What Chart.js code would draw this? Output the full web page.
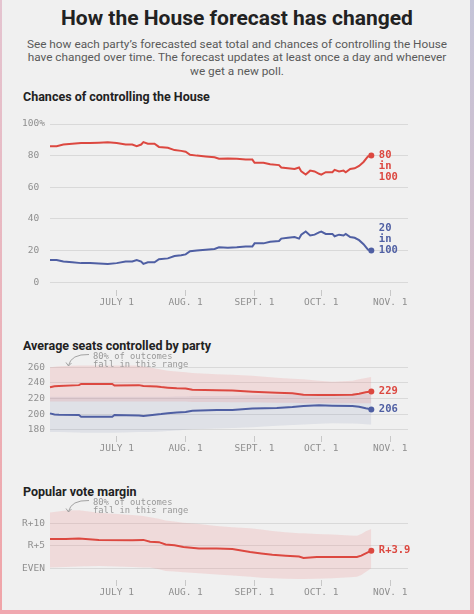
<!DOCTYPE html>
<html>
<head>
<meta charset="utf-8">
<script src="https://cdn.jsdelivr.net/npm/chart.js@4/dist/chart.umd.min.js"></script>
<style>
  html, body { margin: 0; padding: 0; }
  body { width: 474px; height: 614px; position: relative; background: #f0f0f0; overflow: hidden; font-family: Roboto, "Noto Sans", sans-serif; }
  .abs { position: absolute; }
  .title { left: 0; width: 474px; top: 4px; text-align: center; font-size: 21px; font-weight: 700; color: #222; line-height: 28px; }
  .sub { left: 0; width: 474px; top: 37.5px; text-align: center; font-size: 11.8px; color: #5a5a5a; line-height: 13.5px; }
  .sect { left: 23px; font-size: 12.5px; font-weight: 700; color: #222; line-height: 15px; }
  .note { left: 93px; font-family: "DejaVu Sans Mono", monospace; font-size: 8.8px; color: #999; line-height: 8.3px; white-space: pre; }
  canvas { position: absolute; left: 0; }
  .bl { left: 0; top: 0; width: 2px; height: 614px; background: linear-gradient(#e4c4d0, #f0a4a8); }
  .br { left: 470px; top: 0; width: 4px; height: 614px; background: linear-gradient(#c4c4d8, #e8b4bc); }
  .bb { left: 0; top: 610px; width: 474px; height: 4px; background: #f0a8b0; }
</style>
</head>
<body>
<div class="abs bl"></div>
<div class="abs br"></div>
<div class="abs bb"></div>

<div class="abs title">How the House forecast has changed</div>
<div class="abs sub">See how each party’s forecasted seat total and chances of controlling the House<br>have changed over time. The forecast updates at least once a day and whenever<br>we get a new poll.</div>

<div class="abs sect" style="top:89px">Chances of controlling the House</div>
<div class="abs sect" style="top:338px">Average seats controlled by party</div>
<div class="abs sect" style="top:484px">Popular vote margin</div>

<canvas id="c1" width="474" height="200" style="top:110px"></canvas>
<canvas id="c2" width="474" height="106" style="top:350px"></canvas>
<canvas id="c3" width="474" height="107" style="top:493px"></canvas>

<div class="abs note" style="top:351.5px">80% of outcomes
fall in this range</div>
<div class="abs note" style="top:497.5px">80% of outcomes
fall in this range</div>

<svg class="abs" style="left:0;top:0;pointer-events:none" width="474" height="614">
  <g fill="none" stroke="#999" stroke-width="0.9">
    <path d="M89,354.5 Q71,354 68.5,365.5"/>
    <path d="M66,362.5 L68.5,366 L71.5,363"/>
    <path d="M89,500.5 Q71,500 68.5,511.5"/>
    <path d="M66,508.5 L68.5,512 L71.5,509"/>
  </g>
</svg>

<script>
// ---------- DATA ----------
// x values are days since June 1
const xTickDays = [30, 61, 92, 122, 153];
const xTickLabels = ['JULY 1', 'AUG. 1', 'SEPT. 1', 'OCT. 1', 'NOV. 1'];

const chanceTicks = [0, 20, 40, 60, 80, 100];
const chanceTickLabels = ['0 ', '20 ', '40 ', '60 ', '80 ', '100%'];
const chanceDays = [0, 3, 6, 10, 14, 18, 22, 26, 30, 34, 37, 39, 41, 42, 44, 47, 49, 53, 56, 59, 61, 63, 66, 70, 74, 76, 80, 84, 88, 91, 92, 96, 99, 103, 104, 107, 110, 112, 113, 115, 117, 119, 121, 122, 124, 127, 128, 130, 132, 133, 135, 137, 139, 141, 143, 144.5];
const repChance = [86, 86, 87, 87.5, 88, 88, 88.2, 88.5, 88, 87, 87, 86, 87, 88.5, 87.5, 87.5, 85.5, 85, 83.5, 83, 82.5, 80.5, 80, 79.5, 79, 78, 78.2, 78, 77.5, 77.5, 75.5, 75.5, 74.5, 74, 72.5, 72, 71.5, 72.5, 70, 68, 70.5, 70, 68.5, 68, 69.5, 69.5, 71, 70, 70.5, 69.5, 71.5, 72, 73.5, 76, 79.5, 80];
const demChance = [14, 14, 13, 12.5, 12, 12, 11.8, 11.5, 12, 13, 13, 14, 13, 11.5, 12.5, 12.5, 14.5, 15, 16.5, 17, 17.5, 19.5, 20, 20.5, 21, 22, 21.8, 22, 22.5, 22.5, 24.5, 24.5, 25.5, 26, 27.5, 28, 28.5, 27.5, 30, 32, 29.5, 30, 31.5, 32, 30.5, 30.5, 29, 30, 29.5, 30.5, 28.5, 28, 26.5, 24, 20.5, 20];

const seatTicks = [180, 200, 220, 240, 260];
const seatDays = [0, 2, 4, 13, 14, 28, 29, 40, 42, 48, 50, 53, 57, 61, 64, 75, 82, 91, 102, 109, 114, 121, 127, 136, 139, 142, 144.5];
const repSeats = [234.4, 235.5, 236, 237, 238.6, 238.4, 236.4, 237, 236, 235.3, 234.5, 233.8, 233, 232.8, 231, 230.4, 230, 228.6, 227.4, 226.5, 224.8, 224.4, 224.4, 224.8, 226, 228, 229];
const repSeatsHigh = [260, 260.5, 261, 262, 262, 262, 262, 262, 261, 258, 257, 255.5, 254.5, 253.5, 252.5, 251, 250.3, 249, 246.5, 245.2, 244.5, 242.5, 241.3, 242.6, 244.5, 246, 247.3];
const repSeatsLow = [216, 216, 216, 216, 216, 216, 216, 216, 216, 216, 216, 216, 216, 216, 215.5, 215.5, 215, 215, 214.5, 214.5, 214, 214, 214, 214, 214, 214, 214];
const demSeats = [200.9, 199.5, 199.2, 198.8, 196.6, 196.6, 198.8, 198.3, 197.5, 199.5, 200, 201, 202, 202.6, 204.3, 205.2, 205.2, 207, 207.8, 209.1, 210.4, 211.2, 210.8, 210.4, 209.5, 207.5, 206];
const demSeatsHigh = [222, 222, 222, 222, 222, 222, 222, 222, 222, 222, 222, 222, 222.5, 222.5, 223, 223, 223.5, 224, 224.5, 225, 225.5, 226, 226, 226, 226, 226, 226];
const demSeatsLow = [177.2, 177, 177, 176.5, 176.3, 176, 176, 177, 177.2, 177.5, 177.7, 178.3, 179, 180, 180.5, 181.5, 182.3, 183.3, 185, 186, 186.6, 187.5, 188.4, 188, 187.5, 187, 186.6];

const voteTicks = [0, 5, 10];
const voteTickLabels = ['EVEN', 'R+5', 'R+10'];
const voteDays = [0, 7, 13, 22, 37, 42, 45, 49, 52, 56, 60, 67, 75, 82, 90, 95, 100, 106, 112, 114, 120, 127, 135, 138, 140, 142, 144.5];
const voteMargin = [6.5, 6.5, 6.6, 6.3, 6.2, 6.3, 5.9, 5.8, 5.3, 5.1, 4.7, 4.4, 4.4, 4.3, 3.6, 3.3, 3.0, 2.8, 2.6, 2.3, 2.5, 2.5, 2.5, 2.5, 2.8, 3.3, 3.9];
const voteHigh = [12.4, 12.8, 12.9, 12.3, 11.8, 11.6, 11.3, 11.0, 10.6, 10.4, 10.1, 9.8, 9.4, 9.1, 8.9, 8.6, 8.3, 8.0, 7.8, 7.8, 7.6, 7.5, 7.3, 7.2, 7.6, 8.2, 8.7];
const voteLow = [0.2, 0.3, 0.4, 0.5, 0.3, 0.2, 0.2, -0.2, -0.6, -0.7, -0.9, -1.1, -1.4, -1.6, -1.9, -2.1, -2.2, -2.3, -2.4, -2.4, -2.3, -2.2, -2.0, -1.9, -1.5, -0.8, 0.0];

// ---------- STYLE ----------
const RED = '#dc4840';
const BLUE = '#4f5fa3';
const RED_BAND = 'rgba(236,120,120,0.18)';
const BLUE_BAND = 'rgba(110,120,170,0.13)';
const MONO = '"DejaVu Sans Mono", monospace';
const GRID = '#d9d9d9';

const pts = (xs, ys) => xs.map((x, i) => ({ x, y: ys[i] }));

function lineDS(xs, ys, color) {
  const last = xs.length - 1;
  return {
    data: pts(xs, ys), borderColor: color, borderWidth: 2, tension: 0, fill: false,
    pointRadius: c => c.dataIndex === last ? 3 : 0,
    pointBackgroundColor: color, pointBorderWidth: 0, order: 0, clip: false
  };
}
function bandDS(xs, ys, color, fillTo) {
  return { data: pts(xs, ys), borderWidth: 0, pointRadius: 0, backgroundColor: color,
           fill: fillTo, tension: 0, order: 1 };
}

const endLabels = {
  id: 'endLabels',
  afterDatasetsDraw(chart) {
    const list = chart.options.plugins.endLabels.items || [];
    const ctx = chart.ctx;
    ctx.save();
    ctx.font = 'bold 10.5px ' + MONO;
    ctx.textAlign = 'left';
    ctx.textBaseline = 'middle';
    list.forEach(it => {
      const meta = chart.getDatasetMeta(it.ds);
      const p = meta.data[meta.data.length - 1];
      ctx.fillStyle = it.color;
      const n = it.lines.length;
      it.lines.forEach((t, i) => {
        const off = it.anchor === 'last' ? (i - (n - 1)) * 11 : i * 11;
        ctx.fillText(t, p.x + 7.5, p.y + off);
      });
    });
    ctx.restore();
  }
};

function makeChart(id, datasets, yMin, yMax, yTicks, yLabel, items) {
  return new Chart(document.getElementById(id), {
    type: 'line',
    data: { datasets },
    plugins: [endLabels],
    options: {
      responsive: false, animation: false, devicePixelRatio: 1,
      layout: { padding: { top: 14, right: 66, left: 0, bottom: 0 } },
      plugins: { legend: { display: false }, tooltip: { enabled: false }, endLabels: { items } },
      scales: {
        x: {
          type: 'linear', min: 0, max: 161,
          afterBuildTicks: s => { s.ticks = xTickDays.map(v => ({ value: v })); },
          afterFit: s => { s.height = 20; },
          border: { display: false },
          grid: { drawOnChartArea: false, drawTicks: true, tickLength: 6, color: '#c8c8c8' },
          ticks: { padding: 1, color: '#8f8f8f', font: { family: MONO, size: 9.5 }, maxRotation: 0,
                   callback: v => xTickLabels[xTickDays.indexOf(v)] }
        },
        y: {
          min: yMin, max: yMax,
          afterBuildTicks: s => { s.ticks = yTicks.map(v => ({ value: v })); },
          afterFit: s => { s.width = 50; },
          border: { display: false },
          grid: { color: GRID, drawTicks: false, lineWidth: 1 },
          ticks: { padding: 5, color: '#8f8f8f', font: { family: MONO, size: 9.5 }, callback: yLabel }
        }
      }
    }
  });
}

const lastOf = a => a[a.length - 1];

makeChart('c1', [
  lineDS(chanceDays, repChance, RED),
  lineDS(chanceDays, demChance, BLUE)
], -5, 100, chanceTicks, v => chanceTickLabels[chanceTicks.indexOf(v)], [
  { ds: 0, color: RED, anchor: 'first', lines: [String(Math.round(lastOf(repChance))), 'in', '100'] },
  { ds: 1, color: BLUE, anchor: 'last', lines: [String(Math.round(lastOf(demChance))), 'in', '100'] }
]);

makeChart('c2', [
  lineDS(seatDays, repSeats, RED),
  lineDS(seatDays, demSeats, BLUE),
  bandDS(seatDays, repSeatsHigh, RED_BAND, 3),
  bandDS(seatDays, repSeatsLow, 'rgba(0,0,0,0)', false),
  bandDS(seatDays, demSeatsHigh, BLUE_BAND, 5),
  bandDS(seatDays, demSeatsLow, 'rgba(0,0,0,0)', false)
], 172, 264, seatTicks, v => String(v), [
  { ds: 0, color: RED, anchor: 'first', lines: [String(Math.round(lastOf(repSeats)))] },
  { ds: 1, color: BLUE, anchor: 'first', lines: [String(Math.round(lastOf(demSeats)))] }
]);

makeChart('c3', [
  lineDS(voteDays, voteMargin, RED),
  bandDS(voteDays, voteHigh, RED_BAND, 2),
  bandDS(voteDays, voteLow, 'rgba(0,0,0,0)', false)
], -2.6, 13.6, voteTicks, v => voteTickLabels[voteTicks.indexOf(v)], [
  { ds: 0, color: RED, anchor: 'first', lines: ['R+' + lastOf(voteMargin).toFixed(1)] }
]);
</script>
</body>
</html>
